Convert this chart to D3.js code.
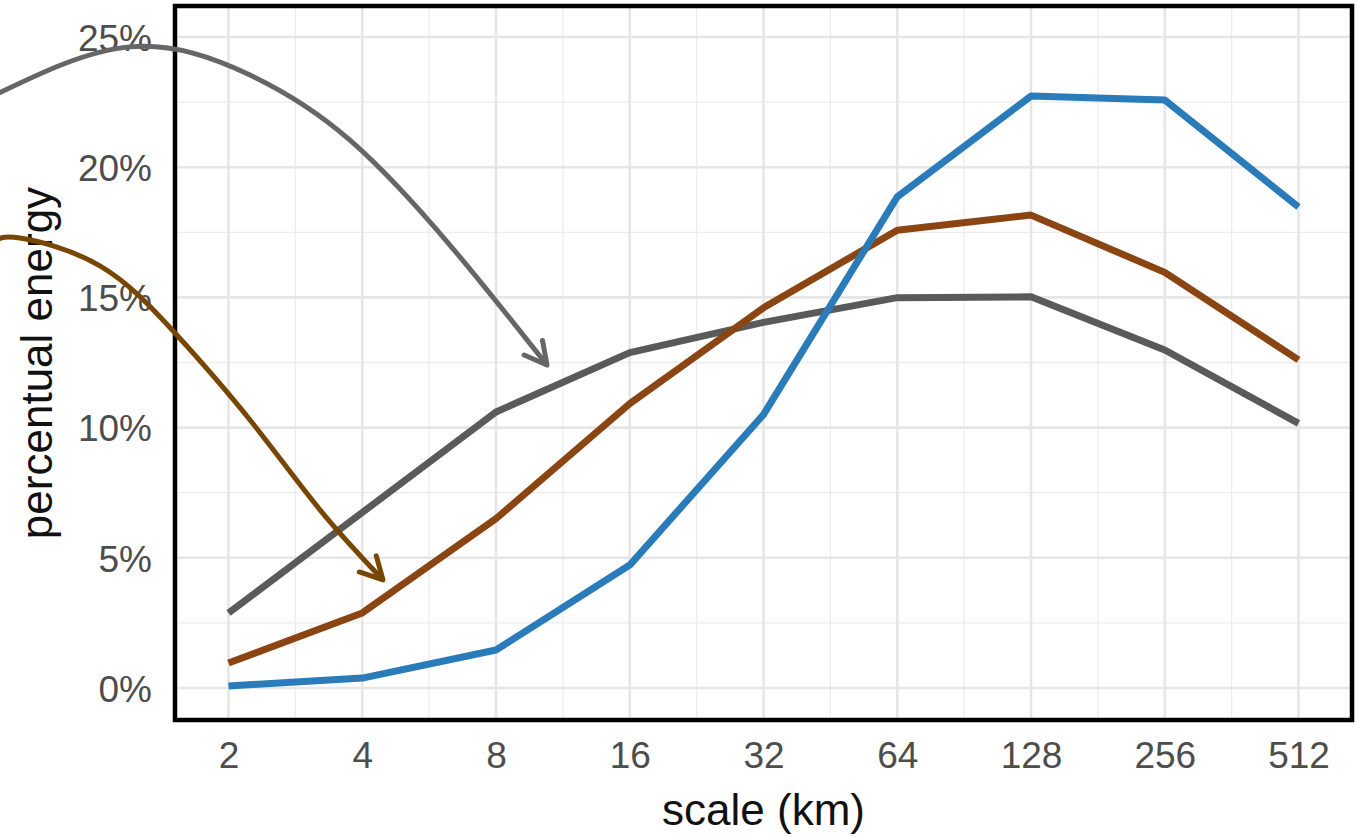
<!DOCTYPE html>
<html>
<head>
<meta charset="utf-8">
<script src="https://cdn.jsdelivr.net/npm/d3@7"></script>
<style>
  body { margin: 0; background: #fff; }
  svg { display: block; font-family: "Liberation Sans", Arial, sans-serif; }
</style>
</head>
<body>
<svg id="vis" width="1357" height="837"></svg>
<script>
// scale in km (log2 axis)
const scales = [2, 4, 8, 16, 32, 64, 128, 256, 512];
const yTicks = [0, 5, 10, 15, 20, 25];

// percentual energy per series
const blueSeries = [0.08, 0.38, 1.46, 4.72, 10.5, 18.86, 22.73, 22.58, 18.47];
const brownSeries = [0.96, 2.88, 6.5, 10.92, 14.6, 17.58, 18.16, 15.96, 12.6];
const greySeries = [2.88, 6.74, 10.6, 12.88, 14.04, 14.99, 15.02, 12.98, 10.16];

// annotation arrows, in data units [km, %]
const greyArrow = [[0.596, 22.77], [1.201, 24.62], [2.236, 23.54], [3.753, 21.04], [6.30, 17.01], [10.42, 12.4]];
const brownArrow = [[0.596, 17.13], [0.679, 17.28], [1.027, 16.21], [1.516, 13.63], [2.236, 10.29],
  [3.213, 6.84], [4.454, 4.15]];

const svg = d3.select('#vis');
const panel = { left: 175, right: 1352, top: 6, bottom: 720 };

const x = d3.scaleLog().base(2)
  .domain([Math.pow(2, 0.6), Math.pow(2, 9.4)])
  .range([panel.left, panel.right]);
const y = d3.scaleLinear()
  .domain([-1.23, 26.19])
  .range([panel.bottom, panel.top]);

// grid
const grid = svg.append('g');
const minorX = scales.slice(0, -1).map(d => d * Math.SQRT2);
const minorY = yTicks.slice(0, -1).map(d => d + 2.5);

grid.selectAll('line.minor-x').data(minorX).enter().append('line')
  .attr('x1', d => x(d)).attr('x2', d => x(d))
  .attr('y1', panel.top).attr('y2', panel.bottom)
  .attr('stroke', '#ececec').attr('stroke-width', 1.3);
grid.selectAll('line.minor-y').data(minorY).enter().append('line')
  .attr('x1', panel.left).attr('x2', panel.right)
  .attr('y1', d => y(d)).attr('y2', d => y(d))
  .attr('stroke', '#ececec').attr('stroke-width', 1.3);
grid.selectAll('line.major-x').data(scales).enter().append('line')
  .attr('x1', d => x(d)).attr('x2', d => x(d))
  .attr('y1', panel.top).attr('y2', panel.bottom)
  .attr('stroke', '#e6e6e6').attr('stroke-width', 2.6);
grid.selectAll('line.major-y').data(yTicks).enter().append('line')
  .attr('x1', panel.left).attr('x2', panel.right)
  .attr('y1', d => y(d)).attr('y2', d => y(d))
  .attr('stroke', '#e6e6e6').attr('stroke-width', 2.6);

// series lines
const line = d3.line()
  .x((d, i) => x(scales[i]))
  .y(d => y(d));

const series = [
  { values: greySeries, color: '#5a5a5a' },
  { values: brownSeries, color: '#8b4512' },
  { values: blueSeries, color: '#2a7bb9' }
];

svg.append('g').selectAll('path').data(series).enter().append('path')
  .attr('d', d => line(d.values))
  .attr('fill', 'none')
  .attr('stroke', d => d.color)
  .attr('stroke-width', 7)
  .attr('stroke-linejoin', 'round');

// panel border
svg.append('rect')
  .attr('x', panel.left).attr('y', panel.top)
  .attr('width', panel.right - panel.left)
  .attr('height', panel.bottom - panel.top)
  .attr('fill', 'none').attr('stroke', '#000').attr('stroke-width', 4.5);

// axes
const xAxis = svg.append('g')
  .attr('transform', 'translate(0,' + panel.bottom + ')')
  .call(d3.axisBottom(x).tickValues(scales).tickFormat(d3.format('d')).tickSize(0).tickPadding(22));
const yAxis = svg.append('g')
  .attr('transform', 'translate(' + panel.left + ',0)')
  .call(d3.axisLeft(y).tickValues(yTicks).tickFormat(d => d + '%').tickSize(0).tickPadding(23));

[xAxis, yAxis].forEach(a => {
  a.select('.domain').remove();
  a.selectAll('text')
    .attr('fill', '#4d4d4d')
    .style('font-size', '37px')
    .style('font-family', '"Liberation Sans", Arial, sans-serif');
});
yAxis.selectAll('text').attr('dy', '0.36em');

svg.append('text')
  .attr('x', (panel.left + panel.right) / 2)
  .attr('y', 825)
  .attr('text-anchor', 'middle')
  .attr('fill', '#111')
  .style('font-size', '44px')
  .text('scale (km)');

svg.append('text')
  .attr('transform', 'translate(52,' + (panel.top + panel.bottom) / 2 + ') rotate(-90)')
  .attr('text-anchor', 'middle')
  .attr('fill', '#111')
  .style('font-size', '44px')
  .text('percentual energy');

// annotation arrows
const arrowLine = d3.line()
  .x(d => x(d[0]))
  .y(d => y(d[1]))
  .curve(d3.curveNatural);

const arrows = [
  { pts: greyArrow, color: '#666666' },
  { pts: brownArrow, color: '#774600' }
];

arrows.forEach(a => {
  const path = svg.append('path')
    .attr('d', arrowLine(a.pts))
    .attr('fill', 'none')
    .attr('stroke', a.color)
    .attr('stroke-width', 5);

  const node = path.node();
  const len = node.getTotalLength();
  const tip = node.getPointAtLength(len);
  const back = node.getPointAtLength(len - 12);
  const ang = Math.atan2(tip.y - back.y, tip.x - back.x);
  const headLen = 25, spread = Math.PI / 180 * 28;

  const head = [
    [tip.x - headLen * Math.cos(ang - spread), tip.y - headLen * Math.sin(ang - spread)],
    [tip.x, tip.y],
    [tip.x - headLen * Math.cos(ang + spread), tip.y - headLen * Math.sin(ang + spread)]
  ];
  svg.append('path')
    .attr('d', d3.line()(head))
    .attr('fill', 'none')
    .attr('stroke', a.color)
    .attr('stroke-width', 5)
    .attr('stroke-linecap', 'round')
    .attr('stroke-linejoin', 'round');
});
</script>
</body>
</html>
